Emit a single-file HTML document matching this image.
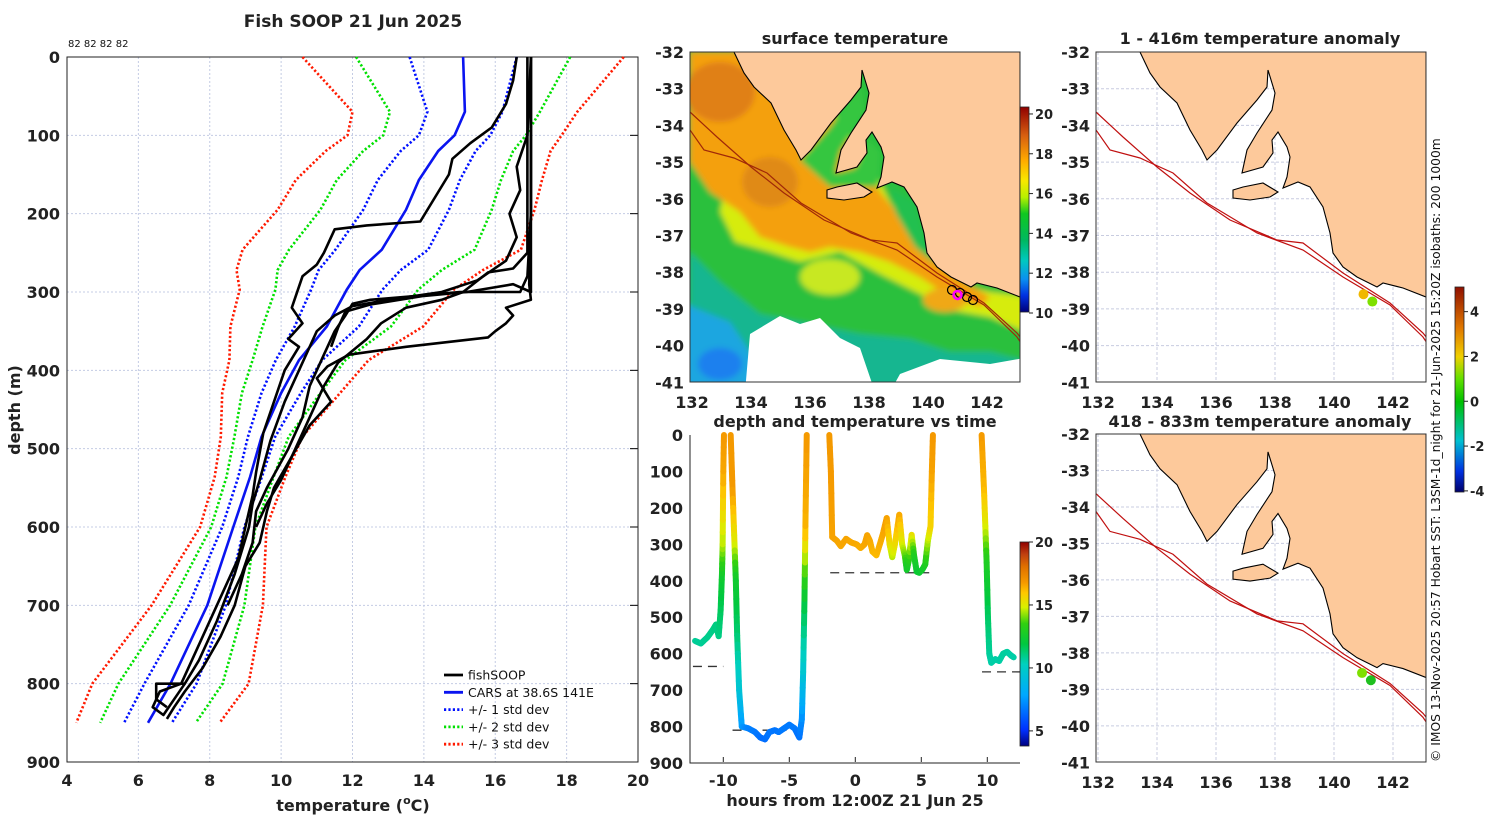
<!DOCTYPE html>
<html><head><meta charset="utf-8"><style>
html,body{margin:0;padding:0;background:#fff;}
svg{display:block;font-family:"DejaVu Sans","Liberation Sans",sans-serif;}
.b{font-weight:bold;fill:#222;}
</style></head><body>
<svg id="fig" width="1500" height="820" viewBox="0 0 1500 820" xmlns="http://www.w3.org/2000/svg">
<defs>
<linearGradient id="gSST" x1="0" y1="1" x2="0" y2="0">
<stop offset="0" stop-color="#00007a"/><stop offset="0.08" stop-color="#0030e0"/><stop offset="0.16" stop-color="#0a90f0"/><stop offset="0.25" stop-color="#00c8c0"/><stop offset="0.35" stop-color="#00b860"/><stop offset="0.48" stop-color="#10c820"/><stop offset="0.56" stop-color="#b8f000"/><stop offset="0.64" stop-color="#f8e800"/><stop offset="0.74" stop-color="#ffaa00"/><stop offset="0.86" stop-color="#d86010"/><stop offset="1" stop-color="#900000"/>
</linearGradient>
<linearGradient id="gT" x1="0" y1="1" x2="0" y2="0">
<stop offset="0" stop-color="#000080"/><stop offset="0.08" stop-color="#0030ff"/><stop offset="0.25" stop-color="#00a8ff"/><stop offset="0.4" stop-color="#00d0c0"/><stop offset="0.5" stop-color="#00c840"/><stop offset="0.6" stop-color="#30d010"/><stop offset="0.68" stop-color="#d8f000"/><stop offset="0.75" stop-color="#ffc800"/><stop offset="0.8" stop-color="#f59a00"/><stop offset="0.88" stop-color="#e07000"/><stop offset="0.94" stop-color="#c04010"/><stop offset="1" stop-color="#900000"/>
</linearGradient>
<linearGradient id="gA" x1="0" y1="1" x2="0" y2="0">
<stop offset="0" stop-color="#00006a"/><stop offset="0.1" stop-color="#0030e0"/><stop offset="0.25" stop-color="#00c0d0"/><stop offset="0.44" stop-color="#00c000"/><stop offset="0.55" stop-color="#60e000"/><stop offset="0.66" stop-color="#f0d000"/><stop offset="0.8" stop-color="#e07800"/><stop offset="1" stop-color="#901000"/>
</linearGradient>
<filter id="blur" x="-5%" y="-5%" width="110%" height="110%"><feGaussianBlur stdDeviation="3"/></filter>
<clipPath id="clipMap"><rect x="0" y="0" width="330" height="330"/></clipPath>
</defs>

<text class="b" x="353" y="27" font-size="17" text-anchor="middle">Fish SOOP 21 Jun 2025</text>
<text x="68" y="47" font-size="10" fill="#111">82 82 82 82</text>
<g id="left"></g>
<text class="b" x="0" y="0" font-size="16" text-anchor="middle" transform="translate(20,410) rotate(-90)">depth (m)</text>
<text class="b" x="353" y="811" font-size="16" text-anchor="middle">temperature (<tspan font-size="11" dy="-7">o</tspan><tspan dy="7">C)</tspan></text>

<g id="legend"></g>

<text class="b" x="855" y="44" font-size="16" text-anchor="middle" fill="#000">surface temperature</text>
<g id="mapSST"></g>

<text class="b" x="855" y="427" font-size="16" text-anchor="middle">depth and temperature vs time</text>
<g id="tchart"></g>
<text class="b" x="855" y="806" font-size="16" text-anchor="middle">hours from 12:00Z 21 Jun 25</text>

<text class="b" x="1260" y="44" font-size="16" text-anchor="middle">1 - 416m temperature anomaly</text>
<g id="mapA1"></g>
<text class="b" x="1260" y="427" font-size="16" text-anchor="middle">418 - 833m temperature anomaly</text>
<g id="mapA2"></g>
<g id="cbars"></g>

<text x="0" y="0" font-size="12.3" fill="#111" transform="translate(1440,762) rotate(-90)">© IMOS 13-Nov-2025 20:57 Hobart SST: L3SM-1d_night for 21-Jun-2025 15:20Z isobaths: 200  1000m</text>
</svg>
<script>
// ---------- data: CARS climatology ----------
const carsDepth = [0,70,100,120,157,195,246,272,297,344,387,429,485,536,600,700,800,850];
const carsMean  = [15.1,15.15,14.86,14.4,13.86,13.5,12.82,12.2,11.84,11.28,10.5,10.0,9.45,9.13,8.66,7.93,6.9,6.27];
const carsStd   = [1.5,1.05,1.0,1.05,1.15,1.2,1.3,1.15,1.0,0.9,0.65,0.55,0.38,0.33,0.31,0.52,0.73,0.67];
// ---------- data: fishSOOP profiles (temperature, depth) ----------
const prof1T = [17.0,17.0,17.0,16.95,17.0,16.3,16.5,16.3,16.0,15.8,13.5,11.9,11.3,11.0,11.4,10.8,10.3,9.8,9.6,9.4,9.0,8.7,8.3,7.8,7.3,7.0,6.8];
const prof1D = [0,100,200,290,310,320,330,340,350,358,370,380,395,410,440,470,510,550,580,620,650,700,740,780,810,830,845];
const prof2T = [16.6,16.5,16.3,15.9,15.3,14.8,14.7,14.3,13.9,12.4,11.5,11.2,11.0,10.6,10.3,10.6,10.2,10.5,10.1,9.8,9.5,9.3,9.2,9.0,8.8,8.2,7.6,7.2,6.6,6.4,6.7,7.0,7.3];
const prof2D = [0,30,60,90,110,130,150,180,210,215,220,250,265,280,320,340,360,370,400,440,480,530,560,600,640,700,760,800,810,830,840,820,800];
const prof3T = [17.0,16.9,16.6,16.7,16.4,16.6,16.3,15.5,14.5,13.0,12.0,11.5,11.0,10.8,10.5,10.1,9.7,9.4,9.2,9.1,8.7,8.2,7.7,7.3,6.5,6.5,6.8];
const prof3D = [0,100,140,170,200,230,260,285,300,310,318,330,350,370,400,440,490,540,570,600,660,720,770,800,800,820,830];
const prof4T = [17.0,17.0,16.9,16.7,15.0,13.8,12.5,12.0,11.8,11.5,11.2,10.8,10.6,10.2,9.6,9.3,9.2,8.9,8.5];
const prof4D = [0,200,280,300,300,305,310,315,330,350,380,420,460,500,550,580,620,660,700];
const prof5T = [16.9,16.9,16.5,15.8,15.1,14.5,13.5,12.8,12.4,11.6,11.2,10.8,10.4,10.0,9.6,9.3];
const prof5D = [0,250,270,275,300,310,320,340,360,390,420,460,500,540,570,600];
const prof6T = [17.0,17.0,16.5,15.2,14.0,12.5,11.8,11.6,11.4];
const prof6D = [0,300,290,300,305,316,325,345,370];
const tempTicks = [4,6,8,10,12,14,16,18,20];
const depthTicks = [0,100,200,300,400,500,600,700,800,900];
// ---------- data: depth vs time ----------
const segAHour = [-12.14,-11.7,-11.2,-10.8,-10.55,-10.35,-10.2,-10.1,-10.05,-10.0,-9.95];
const segADepth = [565,572,555,535,520,552,480,380,300,100,0];
const segATemp = [10.8,10.8,10.9,11.0,11.1,11.0,11.5,12.5,14.5,16.5,16.8];
const segBHour = [-9.44,-9.3,-9.15,-9.05,-8.95,-8.8,-8.6,-8.1,-7.6,-7.2,-6.84,-6.5,-6.1,-5.8,-5.4,-5.0,-4.6,-4.24,-4.05,-3.95,-3.85,-3.78,-3.68];
const segBDepth = [0,150,300,400,550,700,800,805,815,830,835,815,810,815,805,795,805,830,780,650,450,250,0];
const segBTemp = [16.8,16.8,15.0,12.5,11.3,9.6,7.6,7.0,6.8,6.6,6.5,6.7,6.7,6.7,6.8,6.8,6.8,6.6,7.2,9.5,12.0,16.3,16.8];
const segCHour = [-1.97,-1.85,-1.75,-1.4,-1.1,-0.7,-0.3,0.1,0.4,0.7,0.9,1.1,1.3,1.6,1.9,2.1,2.38,2.6,2.8,3.0,3.33,3.55,3.75,3.9,4.05,4.27,4.45,4.65,4.85,5.1,5.3,5.5,5.7,5.8,5.88];
const segCDepth = [0,100,280,290,305,285,295,300,310,300,275,290,320,330,295,270,228,300,335,300,219,300,330,370,345,274,330,375,378,368,355,290,250,100,0];
const segCTemp = [16.8,16.8,16.6,16.6,16.5,16.6,16.5,16.5,16.4,16.5,16.6,16.5,16.3,16.2,16.4,16.5,16.7,15.5,14.5,15.3,16.6,15.0,14.0,12.5,13.0,15.5,13.0,12.4,12.3,12.5,12.8,14.5,15.6,16.6,16.8];
const segDHour = [9.57,9.75,9.85,9.95,10.05,10.15,10.3,10.6,10.9,11.2,11.5,11.8,12.0];
const segDDepth = [0,150,250,350,500,600,625,615,620,600,595,605,610];
const segDTemp = [16.8,16.2,15.0,13.0,11.5,10.8,10.6,10.6,10.6,10.7,10.7,10.6,10.6];
const bottomHour = [[-12.3,-10.0],[-9.3,-3.7],[-1.9,5.9],[9.6,12.6]];
const bottomDepth = [635,810,378,650];
const hourTicks = [-10,-5,0,5,10];
// ---------- data: maps ----------
const lonTicks = [132,134,136,138,140,142];
const latTicks = [-32,-33,-34,-35,-36,-37,-38,-39,-40,-41];
const sstTicks = [10,12,14,16,18,20];
const tcTicks = [5,10,15,20];
const anomTicks = [-4,-2,0,2,4];
const shallowLon = [141.0, 141.3]; const shallowLat = [-38.6, -38.8]; const shallowAnom = [2.5, 0.8];
const deepLon = [140.95, 141.25]; const deepLat = [-38.55, -38.75]; const deepAnom = [0.6, 0.5];

const NS = 'http://www.w3.org/2000/svg';
function mk(tag, attrs, parent){ const e=document.createElementNS(NS,tag); for(const k in attrs) e.setAttribute(k,attrs[k]); parent.appendChild(e); return e; }

// ---------- left profile chart ----------
const L = document.getElementById('left');
const xT = t => 67 + (t-4)*571/16;
const yD = d => 57 + d*705/900;
tempTicks.forEach(t=>{
  const g=mk('line',{x1:xT(t),x2:xT(t),y1:57,y2:762,stroke:'#c4cce4','stroke-width':1,'stroke-dasharray':'2,2'},L);
  
  
  const tl=mk('text',{x:xT(t),y:786,'font-size':16,'text-anchor':'middle',class:'b'},L); tl.textContent=t;
  
  
});
depthTicks.forEach(d=>{
  const g=mk('line',{x1:67,x2:638,y1:yD(d),y2:yD(d),stroke:'#c4cce4','stroke-width':1,'stroke-dasharray':'2,2'},L);
  
  
  const tk=mk('line',{x1:630,x2:638,y1:yD(d),y2:yD(d),stroke:'#000'},L);
  
  
  const tl=mk('text',{x:60,y:yD(d)+6,'font-size':16,'text-anchor':'end',class:'b'},L); tl.textContent=d;
  
  
});
const frame=mk('rect',{x:67,y:57,width:571,height:705,fill:'none',stroke:'#222','stroke-width':1},L);


function pathFrom(ts,ds){ return ts.map((t,i)=>(i?'L':'M')+xT(t).toFixed(1)+','+yD(ds[i]).toFixed(1)).join(''); }
const stdLines=[[3,'#ff1a00'],[2,'#00e000'],[1,'#0010ff']];
stdLines.forEach(([k,c])=>{
  [-1,1].forEach(s=>{
    const p=mk('path',{d:pathFrom(carsMean.map((m,i)=>m+s*k*carsStd[i]),carsDepth),fill:'none',stroke:c,'stroke-width':2.6,'stroke-dasharray':'2.2,2.2'},L);
    
    
  });
});
const cars=mk('path',{d:pathFrom(carsMean,carsDepth),fill:'none',stroke:'#0a14f0','stroke-width':2.6},L);


[[prof1T,prof1D],[prof2T,prof2D],[prof3T,prof3D],[prof4T,prof4D],[prof5T,prof5D],[prof6T,prof6D]].forEach(([t,d])=>{
  const p=mk('path',{d:pathFrom(t,d),fill:'none',stroke:'#000','stroke-width':2.6,'stroke-linejoin':'round'},L);
  
  
});
// legend
const LG=document.getElementById('legend');
[['fishSOOP','#000',null],['CARS at 38.6S 141E','#0a14f0',null],['+/- 1 std dev','#0010ff','2.2,2.2'],['+/- 2 std dev','#00e000','2.2,2.2'],['+/- 3 std dev','#ff1a00','2.2,2.2']].forEach(([lab,c,da],i)=>{
  const y=675+i*17.3;
  const a={x1:444,x2:463,y1:y,y2:y,stroke:c,'stroke-width':2.8}; if(da) a['stroke-dasharray']=da;
  const sw=mk('line',a,LG);
  
  
  const tx=mk('text',{x:468,y:y+4.5,'font-size':12.5,fill:'#111'},LG); tx.textContent=lab;
  
  
});

// ---------- maps ----------
const land=[[44,0],[54,21],[64,35],[81,51],[94,78],[106,98],[111,108],[121,98],[141,71],[161,48],[171,35],[172,18],[179,41],[176,58],[161,81],[151,98],[146,121],[167,115],[177,101],[176,88],[182,80],[191,95],[194,105],[191,125],[187,136],[202,130],[214,135],[227,155],[234,181],[237,201],[247,215],[261,225],[281,235],[287,231],[307,236],[330,245],[330,0]];
const kangaroo=[[137,138],[147,135],[167,131],[182,140],[174,145],[154,148],[137,146]];
const iso1=[[0,60],[27,85],[61,115],[94,141],[134,168],[181,188],[207,191],[247,221],[294,251],[327,281],[331,286]];
const iso2=[[0,78],[14,98],[44,106],[77,121],[111,151],[161,181],[207,198],[247,225],[294,253],[327,285],[331,291]];
const pts=a=>a.map(p=>p.join(',')).join(' ');
const lonX = lon => 2 + (lon-132)*29.5;
const latY = lat => (-32-lat)*36.7;
function drawMap(gid,ox,oy,sy,sst,isoColor){
  const G=document.getElementById(gid);
  const inner=mk('g',{transform:`translate(${ox},${oy}) scale(1,${sy})`},G);
  
  
  const clip=mk('g',{'clip-path':'url(#clipMap)'},inner);
  
  
  lonTicks.forEach(l=>{
    const g=mk('line',{x1:lonX(l),x2:lonX(l),y1:0,y2:330,stroke:'#c8cce0','stroke-dasharray':'3,2'},clip);
    
    
  });
  latTicks.forEach(l=>{
    const g=mk('line',{x1:0,x2:330,y1:latY(l),y2:latY(l),stroke:'#c8cce0','stroke-dasharray':'3,2'},clip);
    
    
  });
  if(sst){
    const f=mk('g',{filter:'url(#blur)'},clip);
    
    
    const shapes=[
      ['rect',{x:-10,y:-10,width:350,height:350,fill:'#2cc03c'}],
      ['polygon',{points:'0,200 30,230 70,262 120,272 170,282 220,287 260,300 300,300 340,310 340,340 0,340',fill:'#14b690'}],
      ['polygon',{points:'-10,250 40,270 60,300 72,340 -10,340',fill:'#1aa6e0'}],
      ['ellipse',{cx:30,cy:312,rx:22,ry:16,fill:'#1a80ee'}],
      ['polygon',{points:'0,80 40,110 30,160 45,190 80,200 110,210 150,200 190,222 230,242 260,258 300,265 340,282 340,245 300,240 280,235 250,215 215,175 200,150 180,110 150,70 100,0 0,0',fill:'#d6ec10'}],
      ['polygon',{points:'0,0 100,0 140,60 170,105 190,140 215,170 245,205 275,230 300,245 290,255 260,245 230,225 200,210 170,200 140,195 120,200 100,195 70,185 50,160 20,140 0,110',fill:'#f4a010'}],
      ['ellipse',{cx:30,cy:40,rx:35,ry:30,fill:'#e08018'}],
      ['ellipse',{cx:80,cy:130,rx:28,ry:25,fill:'#e08a18'}],
      ['ellipse',{cx:140,cy:225,rx:30,ry:18,fill:'#c8e820'}],
      ['ellipse',{cx:255,cy:248,rx:22,ry:12,fill:'#f0a818'}],
      ['polygon',{points:'110,108 140,75 170,30 175,60 150,100 145,121 165,116 178,88 190,100 188,135 140,135',fill:'#34c640'}],
      ['polygon',{points:'200,135 225,150 235,185 245,212 225,195 205,160',fill:'#22c050'}]
    ];
    shapes.forEach(([tag,a])=>{
      const s=mk(tag,a,f);
      
      
    });
    [['60,282 90,264 110,272 130,266 150,286 170,296 185,340 55,340'],['210,322 250,307 300,312 340,305 340,340 200,340']].forEach(([p])=>{
      const w=mk('polygon',{points:p,fill:'#fff'},clip);
      
      
    });
  }
  const ld=mk('polygon',{points:pts(land),fill:'#fdc99b',stroke:'#000','stroke-width':1.1},clip);
  
  
  const ki=mk('polygon',{points:pts(kangaroo),fill:'#fdc99b',stroke:'#000','stroke-width':1.1},clip);
  
  
  [iso1,iso2].forEach(iso=>{
    const p=mk('polyline',{points:pts(iso),fill:'none',stroke:isoColor,'stroke-width':1.2},clip);
    
    
  });
  const bx=mk('rect',{x:0,y:0,width:330,height:330,fill:'none',stroke:'#333','stroke-width':1},inner);
  
  
  lonTicks.forEach(l=>{
    const t=mk('text',{x:ox+lonX(l),y:oy+330*sy+26,'font-size':16,'text-anchor':'middle',class:'b'},G); t.textContent=l;
    
    
  });
  latTicks.forEach(l=>{
    const t=mk('text',{x:ox-6,y:oy+latY(l)*sy+6,'font-size':16,'text-anchor':'end',class:'b'},G); t.textContent=l;
    
    
  });
  return inner;
}
const m1=drawMap('mapSST',690,52,1,true,'#a02808');
['262,238','270,241','277,245','283,248'].forEach(p=>{
  const [x,y]=p.split(',');
  const c=mk('circle',{cx:x,cy:y,r:4.5,fill:'none',stroke:'#000','stroke-width':1.2},m1);
  
  
});
const mag=mk('circle',{cx:lonX(141.0),cy:latY(-38.62),r:4,fill:'none',stroke:'#ff00ff','stroke-width':2.5},m1);


const anomColor = v => { const f=(v+4.05)/9.15; return f>0.6?'#f0b800':(f>0.5?'#7ee000':'#20c020'); };
const m2=drawMap('mapA1',1096,52,1,false,'#c01010');
shallowLon.forEach((lo,i)=>{
  const c=mk('circle',{cx:lonX(lo),cy:latY(shallowLat[i]),r:5,fill:anomColor(shallowAnom[i])},m2);
  
  
});
const m3=drawMap('mapA2',1096,434,328/330,false,'#c01010');
deepLon.forEach((lo,i)=>{
  const c=mk('circle',{cx:lonX(lo),cy:latY(deepLat[i]),r:5,fill:anomColor(deepAnom[i])},m3);
  
  
});

// ---------- depth vs time chart ----------
const T=document.getElementById('tchart');
const xH = h => 855.3 + h*13.2;
const yB = d => 435 + d*328/900;
function cmap(v){
  const st=[[0,[0,0,128]],[.08,[0,48,255]],[.25,[0,168,255]],[.4,[0,208,192]],[.5,[0,200,64]],[.6,[48,208,16]],[.68,[216,240,0]],[.75,[255,200,0]],[.8,[245,154,0]],[.88,[224,112,0]],[.94,[192,64,16]],[1,[144,0,0]]];
  let f=Math.max(0,Math.min(1,(v-3.8)/16.2));
  for(let i=1;i<st.length;i++){ if(f<=st[i][0]){ const a=st[i-1],b=st[i],u=(f-a[0])/(b[0]-a[0]); return 'rgb('+a[1].map((c,j)=>Math.round(c+u*(b[1][j]-c))).join(',')+')'; } }
  return 'rgb(144,0,0)';
}
depthTicks.forEach(d=>{
  const tl=mk('text',{x:683,y:yB(d)+6,'font-size':16,'text-anchor':'end',class:'b'},T); tl.textContent=d;
  
  
});
hourTicks.forEach(h=>{
  const tl=mk('text',{x:xH(h),y:786,'font-size':16,'text-anchor':'middle',class:'b'},T); tl.textContent=h;
  
  
  const tk=mk('line',{x1:xH(h),x2:xH(h),y1:762,y2:757,stroke:'#222'},T);
  
  
});
const ax=mk('path',{d:'M690,435 L690,763 L1020,763',fill:'none',stroke:'#222','stroke-width':1},T);


bottomDepth.forEach((d,i)=>{
  const l=mk('line',{x1:xH(bottomHour[i][0]),x2:xH(bottomHour[i][1]),y1:yB(d),y2:yB(d),stroke:'#333','stroke-width':1.3,'stroke-dasharray':'9,6'},T);
  
  
});
[[segAHour,segADepth,segATemp],[segBHour,segBDepth,segBTemp],[segCHour,segCDepth,segCTemp],[segDHour,segDDepth,segDTemp]].forEach(([hs,ds,ts])=>{
  const g=mk('g',{},T);
  
  
  for(let i=1;i<hs.length;i++){
    const n=6;
    for(let k=0;k<n;k++){
      const u0=k/n,u1=(k+1)/n;
      const h0=hs[i-1]+(hs[i]-hs[i-1])*u0,h1=hs[i-1]+(hs[i]-hs[i-1])*u1;
      const d0=ds[i-1]+(ds[i]-ds[i-1])*u0,d1=ds[i-1]+(ds[i]-ds[i-1])*u1;
      const tv=ts[i-1]+(ts[i]-ts[i-1])*(u0+u1)/2;
      const s=mk('line',{x1:xH(h0),y1:yB(d0),x2:xH(h1),y2:yB(d1),stroke:cmap(tv),'stroke-width':6,'stroke-linecap':'round'},g);
      
      
    }
  }
});

// ---------- colorbars ----------
const CB=document.getElementById('cbars');
function colorbar(x,yTop,yBot,grad,ticks,vTop,vBot){
  const r=mk('rect',{x:x,y:yTop,width:9,height:yBot-yTop,fill:'url(#'+grad+')',stroke:'#222','stroke-width':0.8},CB);
  
  
  ticks.forEach(v=>{
    const y=yTop+(vTop-v)/(vTop-vBot)*(yBot-yTop);
    const tk=mk('line',{x1:x+9,x2:x+13,y1:y,y2:y,stroke:'#222'},CB);
    
    
    const t=mk('text',{x:x+15,y:y+5,'font-size':13,class:'b'},CB); t.textContent=v;
    
    
  });
}
colorbar(1020,107,312,'gSST',sstTicks,20.35,10.05);
colorbar(1020,542,746,'gT',tcTicks,20,3.8);
colorbar(1455,287,492,'gA',anomTicks,5.1,-4.05);
</script>
</body></html>
